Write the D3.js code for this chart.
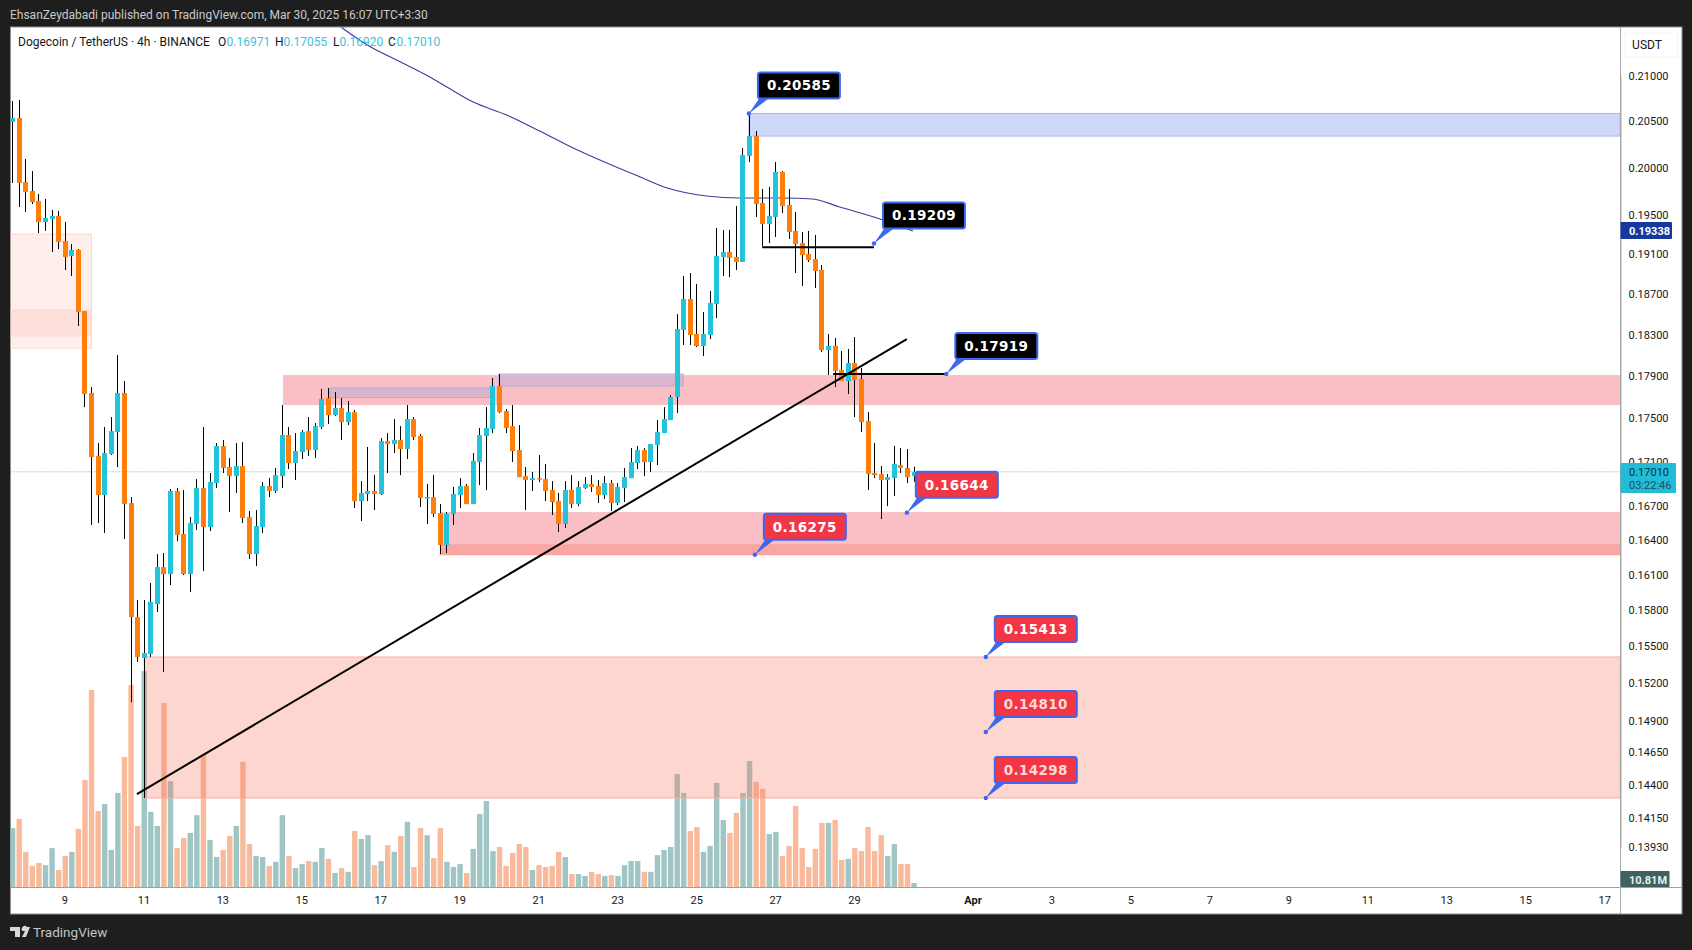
<!DOCTYPE html>
<html>
<head>
<meta charset="utf-8">
<script src="https://cdn.jsdelivr.net/npm/d3@7"></script>
<style>
  html, body { margin: 0; padding: 0; background: #1e1e1e; overflow: hidden; }
  text { font-family: Roboto, sans-serif; }
</style>
</head>
<body>
<div id="chart"></div>
<script>
// 4h candles, first bar opens Mar 7 16:00
var opens = [
  0.20492,0.20536,0.19848,0.19753,0.19648,0.19429,0.19460,0.19492,0.19234,0.19081,
  0.19142,0.18530,0.17739,0.17153,0.16801,0.17172,0.17374,0.17739,0.16729,0.15744,
  0.15405,0.15437,0.15854,0.16169,0.16109,0.16837,0.16456,0.16109,0.16544,0.16864,
  0.16517,0.16908,0.17245,0.17053,0.16971,0.17062,0.16605,0.16281,0.16517,0.16882,
  0.16837,0.16971,0.17346,0.17089,0.17190,0.17383,0.17208,0.17420,0.17691,0.17531,
  0.17597,0.17466,0.17559,0.16747,0.16810,0.16837,0.16810,0.17291,0.17263,0.17300,
  0.17217,0.17494,0.17337,0.16774,0.16783,0.16640,0.16360,0.16632,0.16801,0.16882,
  0.16720,0.17099,0.17337,0.17401,0.17805,0.17569,0.17429,0.17208,0.16971,0.16935,
  0.16953,0.16944,0.16846,0.16747,0.16544,0.16846,0.16720,0.16864,0.16899,0.16882,
  0.16801,0.16908,0.16729,0.16864,0.16953,0.17089,0.17208,0.17099,0.17254,0.17364,
  0.17485,0.17701,0.18344,0.18649,0.18305,0.18188,0.18295,0.18600,0.19071,0.19122,
  0.19071,0.19020,0.20125,0.20339,0.19627,0.19409,0.19481,0.19954,0.19606,0.19337,
  0.19213,0.19101,0.19050,0.18939,0.18149,0.18188,0.17957,0.17852,0.18024,0.17871,
  0.17476,0.16999,0.16990,0.16935,0.16953,0.17071,0.17044,0.16971
];
var highs = [
  0.20722,0.20733,0.20092,0.19964,0.19721,0.19669,0.19554,0.19544,0.19429,0.19203,
  0.19152,0.18530,0.17795,0.17272,0.17420,0.17513,0.18101,0.17852,0.16783,0.15888,
  0.15888,0.16032,0.16281,0.16290,0.16855,0.16864,0.16846,0.16605,0.16944,0.17420,
  0.16999,0.17273,0.17300,0.17135,0.17272,0.17281,0.16658,0.16667,0.16917,0.16953,
  0.17044,0.17625,0.17420,0.17364,0.17392,0.17513,0.17457,0.17777,0.17786,0.17748,
  0.17691,0.17663,0.17578,0.16926,0.17236,0.16980,0.17318,0.17364,0.17494,0.17429,
  0.17625,0.17513,0.17355,0.16899,0.16980,0.16720,0.16649,0.16873,0.16953,0.16899,
  0.17181,0.17411,0.17606,0.17881,0.17919,0.17587,0.17625,0.17438,0.17053,0.17008,
  0.17163,0.17081,0.16926,0.16819,0.16926,0.16980,0.16926,0.16962,0.16980,0.16935,
  0.16971,0.16935,0.16908,0.17044,0.17226,0.17245,0.17226,0.17263,0.17485,0.17606,
  0.17720,0.18500,0.18878,0.18909,0.18798,0.18520,0.18728,0.19368,0.19347,0.19347,
  0.19596,0.20210,0.20585,0.20394,0.19774,0.19795,0.20060,0.19964,0.19774,0.19533,
  0.19326,0.19337,0.19296,0.18990,0.18305,0.18266,0.18139,0.18159,0.18275,0.17976,
  0.17559,0.17272,0.17062,0.16990,0.17245,0.17226,0.17217,0.17055
];
var lows = [
  0.19837,0.19585,0.19533,0.19616,0.19316,0.19337,0.19122,0.19152,0.18939,0.18879,
  0.18383,0.17606,0.16535,0.16553,0.16465,0.17163,0.17053,0.16412,0.15047,0.15372,
  0.14298,0.15413,0.15786,0.15291,0.16015,0.16394,0.16100,0.15955,0.16491,0.16134,
  0.16482,0.16864,0.16999,0.16649,0.16819,0.16553,0.16238,0.16177,0.16465,0.16783,
  0.16819,0.16864,0.17035,0.16935,0.17126,0.17153,0.17135,0.17401,0.17448,0.17522,
  0.17300,0.17438,0.16685,0.16570,0.16747,0.16667,0.16801,0.16999,0.17181,0.16980,
  0.17126,0.17300,0.16694,0.16544,0.16605,0.16281,0.16290,0.16535,0.16685,0.16720,
  0.16720,0.16890,0.16846,0.17364,0.17550,0.17364,0.17099,0.16962,0.16667,0.16837,
  0.16917,0.16747,0.16623,0.16473,0.16509,0.16685,0.16702,0.16855,0.16828,0.16729,
  0.16765,0.16658,0.16711,0.16738,0.16953,0.17035,0.16971,0.17008,0.17071,0.17364,
  0.17485,0.17550,0.18198,0.18198,0.18178,0.18091,0.18256,0.18461,0.18878,0.18868,
  0.18939,0.19020,0.20060,0.19481,0.19183,0.19213,0.19275,0.19523,0.19254,0.18909,
  0.18778,0.19020,0.18758,0.18130,0.17909,0.17795,0.17852,0.17729,0.17513,0.17374,
  0.16846,0.16953,0.16588,0.16702,0.16792,0.16999,0.16908,0.16920
];
var closes = [
  0.20536,0.19837,0.19742,0.19637,0.19429,0.19471,0.19492,0.19224,0.19071,0.19142,
  0.18520,0.17729,0.17144,0.16801,0.17181,0.17383,0.17739,0.16720,0.15744,0.15413,
  0.15445,0.15871,0.16169,0.16109,0.16837,0.16447,0.16109,0.16553,0.16864,0.16517,
  0.16917,0.17245,0.17044,0.16971,0.17062,0.16597,0.16281,0.16526,0.16882,0.16837,
  0.16980,0.17346,0.17089,0.17199,0.17374,0.17208,0.17429,0.17682,0.17531,0.17597,
  0.17466,0.17559,0.16747,0.16819,0.16837,0.16810,0.17291,0.17263,0.17300,0.17217,
  0.17494,0.17328,0.16774,0.16783,0.16632,0.16360,0.16632,0.16810,0.16882,0.16720,
  0.17108,0.17346,0.17411,0.17805,0.17559,0.17411,0.17199,0.16962,0.16935,0.16953,
  0.16944,0.16837,0.16738,0.16544,0.16846,0.16720,0.16873,0.16899,0.16873,0.16801,
  0.16908,0.16729,0.16873,0.16962,0.17099,0.17208,0.17099,0.17263,0.17374,0.17494,
  0.17701,0.18354,0.18649,0.18295,0.18188,0.18305,0.18609,0.19081,0.19122,0.19061,
  0.19020,0.20135,0.20339,0.19616,0.19409,0.19492,0.19954,0.19596,0.19326,0.19203,
  0.19091,0.19040,0.18929,0.18149,0.18188,0.17947,0.17852,0.18024,0.17862,0.17466,
  0.16990,0.16980,0.16935,0.16962,0.17081,0.17044,0.16962,0.17010
];
// volume in millions
var volumes = [
  159,184,95,57,65,59,105,46,84,95,
  157,289,532,205,224,100,254,351,545,165,
  583,203,165,497,286,105,132,146,194,359,
  127,81,100,138,165,338,116,84,81,57,
  68,194,84,51,62,70,68,105,76,38,
  51,41,151,130,140,59,70,113,95,138,
  176,54,159,140,78,159,68,54,62,38,
  103,197,232,97,108,57,92,116,108,46,
  59,54,57,95,81,35,35,30,41,35,
  30,32,30,59,70,70,41,41,86,100,
  108,305,254,151,162,95,111,281,181,146,
  200,254,340,284,265,143,149,84,111,219,
  105,54,103,173,173,181,73,76,105,97,
  162,97,140,84,116,62,62,10.81
];

// moving average, bar number and price
var maBars = [50,53.9,58.9,63.4,66,70,75.1,80.1,85.2,90.3,95.4,99.5,105.5,110.5,117.1,121.6,125.7,131.8,136.8];
var maPrices = [0.2155,0.2135,0.2116,0.20989,0.20877,0.20711,0.20568,0.20394,0.20210,0.20049,0.19900,0.19784,0.19700,0.19679,0.19679,0.19669,0.19585,0.19460,0.19338];

var priceTicks = [0.21,0.205,0.2,0.195,0.191,0.187,0.183,0.179,0.175,0.171,0.167,0.164,0.161,0.158,0.155,0.152,0.149,0.1465,0.144,0.1415,0.1393];
var dayTicks = ["2025-03-09","2025-03-11","2025-03-13","2025-03-15","2025-03-17","2025-03-19","2025-03-21","2025-03-23","2025-03-25","2025-03-27","2025-03-29","2025-04-01","2025-04-03","2025-04-05","2025-04-07","2025-04-09","2025-04-11","2025-04-13","2025-04-15","2025-04-17"];

// zones drawn on the chart
var zoneStart = [-0.4,-0.4,111.9,41.1,65,65,20,48.2,73.9];
var zoneEnd = [12,12,244.3,244.3,244.3,244.3,244.3,72.6,101.9];
var zoneTop = [0.19306,0.18540,0.20585,0.17909,0.16649,0.16360,0.15413,0.17786,0.17919];
var zoneBottom = [0.18168,0.18285,0.20339,0.17625,0.16275,0.16275,0.14298,0.17696,0.17805];
var zoneFill = ["rgba(247,118,99,.12)","rgba(247,118,99,.12)","rgba(70,105,240,.26)","rgba(238,60,80,.33)","rgba(238,60,80,.33)","rgba(255,100,80,.28)","rgba(247,118,99,.3)","rgba(130,150,220,.25)","rgba(130,150,220,.25)"];
var zoneStroke = ["#fbd9d2","#fbd9d2","#a9b6f0","none","none","#fb9a94","#f8b0a6","#b0aade","#b0aade"];

// callouts
var calloutBars = [111.9,130.9,141.9,135.9,112.8,147.9,147.9,147.9];
var calloutPrices = [0.20585,0.19209,0.17919,0.16644,0.16275,0.15413,0.14810,0.14298];
var calloutFill = ["#000000","#000000","#000000","#f23645","#f23645","#f23645","#f23645","#f23645"];
var calloutText = ["#ffffff","#ffffff","#ffffff","#ffffff","#ffffff","#ffffff","#ffd9d4","#ffd9d4"];

// trend line and the two flat lines
var trendBars = [18.9,135.9];
var trendPrices = [0.14328,0.18256];
var flatStart = [113.9,124.7];
var flatEnd = [130.9,141.9];
var flatPrices = [0.1917,0.17919];

var width = 1692, height = 950;
var left = 10.5, right = 1620.5, top_ = 27, volBase = 887, bottom = 914, axisRight = 1682;
var orange = "#ff7f0a", cyan = "#22c4dc";

var firstBar = new Date(Date.UTC(2025, 2, 7, 16));
function barTime(b) { return new Date(firstBar.getTime() + b * 4 * 3600 * 1000); }

var x = d3.scaleUtc()
          .domain([firstBar, new Date(Date.UTC(2025, 3, 17))])
          .range([12.6, 1605]);
var y = d3.scaleLog()
          .domain([0.21, 0.1393])
          .range([76, 847]);
var yVol = d3.scaleLinear()
             .domain([0, 600])
             .range([volBase, volBase - 600 / 2.7]);

var candles = closes.map(function(c, i) {
  return { i: i, t: barTime(i), o: opens[i], h: highs[i], l: lows[i], c: c, v: volumes[i], up: c >= opens[i] };
});

// pixel-snapped centre so wicks stay 1px black
function cx(d) { return Math.floor(x(d.t)) + 0.5; }

var svg = d3.select("#chart")
            .append("svg")
            .attr("width", width)
            .attr("height", height)
            .style("display", "block");

svg.append("rect").attr("width", width).attr("height", height).attr("fill", "#1e1e1e");
svg.append("rect")
   .attr("x", left).attr("y", top_)
   .attr("width", axisRight - left).attr("height", bottom - top_)
   .attr("fill", "#fff").attr("stroke", "#8f8f8f");

svg.append("clipPath").attr("id", "pane").append("rect")
   .attr("x", left).attr("y", top_)
   .attr("width", right - left).attr("height", volBase - top_);
var pane = svg.append("g").attr("clip-path", "url(#pane)");

// volume
pane.selectAll("rect.vol")
    .data(candles)
    .enter().append("rect")
    .attr("class", "vol")
    .attr("x", function(d) { return x(d.t) - 2.7; })
    .attr("width", 5.4)
    .attr("y", function(d) { return yVol(d.v); })
    .attr("height", function(d) { return volBase - yVol(d.v); })
    .attr("fill", function(d) { return d.up ? "#9fc6c4" : "#f8ba9b"; });

// zones
pane.selectAll("rect.zone")
    .data(zoneTop)
    .enter().append("rect")
    .attr("class", "zone")
    .attr("x", function(d, i) { return x(barTime(zoneStart[i])); })
    .attr("width", function(d, i) { return x(barTime(zoneEnd[i])) - x(barTime(zoneStart[i])); })
    .attr("y", function(d) { return y(d); })
    .attr("height", function(d, i) { return y(zoneBottom[i]) - y(d); })
    .attr("fill", function(d, i) { return zoneFill[i]; })
    .attr("stroke", function(d, i) { return zoneStroke[i]; });

// last price line
pane.append("line")
    .attr("x1", left).attr("x2", right)
    .attr("y1", y(closes[closes.length - 1])).attr("y2", y(closes[closes.length - 1]))
    .attr("stroke", "#3fb3c4").attr("stroke-width", 1).attr("stroke-dasharray", "1 2");

// moving average
var maLine = d3.line()
               .x(function(d, i) { return x(barTime(maBars[i])); })
               .y(function(d) { return y(d); })
               .curve(d3.curveMonotoneX);
pane.append("path")
    .attr("d", maLine(maPrices))
    .attr("fill", "none").attr("stroke", "#3d3a9e").attr("stroke-width", 1.1);

// candles
pane.selectAll("line.wick")
    .data(candles)
    .enter().append("line")
    .attr("class", "wick")
    .attr("x1", cx)
    .attr("x2", cx)
    .attr("y1", function(d) { return y(d.h); })
    .attr("y2", function(d) { return y(d.l); })
    .attr("stroke", "#000").attr("stroke-width", 1);
pane.selectAll("rect.body")
    .data(candles)
    .enter().append("rect")
    .attr("class", "body")
    .attr("x", function(d) { return cx(d) - 2.5; })
    .attr("width", 5)
    .attr("y", function(d) { return y(Math.max(d.o, d.c)); })
    .attr("height", function(d) { return Math.max(1.5, Math.abs(y(d.o) - y(d.c))); })
    .attr("fill", function(d) { return d.up ? cyan : orange; });

// trend line, flat lines
var trendLine = d3.line()
                  .x(function(d, i) { return x(barTime(trendBars[i])); })
                  .y(function(d) { return y(d); });
pane.append("path")
    .attr("d", trendLine(trendPrices))
    .attr("fill", "none").attr("stroke", "#000").attr("stroke-width", 2);
pane.selectAll("line.flat")
    .data(flatPrices)
    .enter().append("line")
    .attr("class", "flat")
    .attr("x1", function(d, i) { return x(barTime(flatStart[i])); })
    .attr("x2", function(d, i) { return x(barTime(flatEnd[i])); })
    .attr("y1", function(d) { return y(d); })
    .attr("y2", function(d) { return y(d); })
    .attr("stroke", "#000").attr("stroke-width", 2);

// callouts, box sits up and to the right of its anchor dot
var calloutG = pane.selectAll("g.callout")
    .data(calloutPrices)
    .enter().append("g")
    .attr("class", "callout")
    .attr("transform", function(d, i) { return "translate(" + x(barTime(calloutBars[i])) + "," + y(d) + ")"; });
calloutG.append("path")
    .attr("d", "M0,0L11,-16L21,-16Z")
    .attr("fill", "#3d68ee");
calloutG.append("circle")
    .attr("r", 2.2)
    .attr("fill", "#3d68ee");
calloutG.append("rect")
    .attr("x", 9).attr("y", -41)
    .attr("width", 82).attr("height", 26)
    .attr("rx", 2.5)
    .attr("fill", function(d, i) { return calloutFill[i]; })
    .attr("stroke", "#3d68ee").attr("stroke-width", 2);
calloutG.append("text")
    .attr("x", 50).attr("y", -23)
    .attr("text-anchor", "middle")
    .style("font-family", "'DejaVu Sans', sans-serif")
    .style("font-weight", "bold")
    .style("font-size", "13.5px")
    .style("letter-spacing", "0.35px")
    .attr("fill", function(d, i) { return calloutText[i]; })
    .text(function(d) { return d3.format(".5f")(d); });

// axes
var yAxis = d3.axisRight(y)
              .tickValues(priceTicks)
              .tickFormat(d3.format(".5f"))
              .tickSize(0)
              .tickPadding(8);
var yG = svg.append("g").attr("transform", "translate(" + right + ",0)").call(yAxis);
yG.select(".domain").attr("stroke", "#a8a8a8");
yG.selectAll("text").style("font-size", "11px").style("font-family", "Roboto, sans-serif").attr("fill", "#131722");

var xAxis = d3.axisBottom(x)
              .tickValues(dayTicks.map(function(s) { return new Date(s + "T00:00:00Z"); }))
              .tickFormat(function(d) { return d.getUTCDate() == 1 ? "Apr" : d.getUTCDate(); })
              .tickSize(0)
              .tickPadding(9);
var xG = svg.append("g").attr("transform", "translate(-0.8," + volBase + ")").call(xAxis);
xG.select(".domain").remove();
xG.selectAll("text")
  .style("font-size", "11px")
  .style("font-family", "Roboto, sans-serif")
  .style("font-weight", function(d) { return d.getUTCDate() == 1 ? "bold" : "normal"; })
  .attr("fill", "#131722");

svg.append("line").attr("x1", left).attr("x2", axisRight).attr("y1", volBase + 0.5).attr("y2", volBase + 0.5).attr("stroke", "#a0a0a0");
svg.append("line").attr("x1", right).attr("x2", right).attr("y1", top_).attr("y2", bottom).attr("stroke", "#a8a8a8");

// price badges
function badge(yTop, h, w, fill) {
  svg.append("rect").attr("x", right).attr("y", yTop).attr("width", w).attr("height", h).attr("rx", 1).attr("fill", fill);
}
function badgeText(yPos, s, color, bold) {
  svg.append("text").attr("x", right + 8.5).attr("y", yPos)
     .style("font-size", "11px").style("font-weight", bold ? "bold" : "normal")
     .attr("fill", color).text(s);
}
badge(222, 17, 51.5, "#17399c");
badgeText(235, "0.19338", "#fff", true);
badge(463, 30, 55.5, "#22bcd8");
badgeText(476, "0.17010", "#0f2f3c", false);
badgeText(489, "03:22:46", "#17505f", false);
badge(871, 16, 49, "#3f625f");
badgeText(883.5, "10.81M", "#e8f0ee", true);

// USDT button
svg.append("rect").attr("x", 1625).attr("y", 32).attr("width", 53).attr("height", 25).attr("rx", 3).attr("fill", "#fff").attr("stroke", "#f3f3f3");
svg.append("text").attr("x", 1647).attr("y", 49).attr("text-anchor", "middle")
   .style("font-size", "12px").attr("fill", "#131722").text("USDT");

// header and legend
svg.append("text").attr("x", 10).attr("y", 19)
   .style("font-size", "12px").attr("fill", "#c9c9c9")
   .text("EhsanZeydabadi published on TradingView.com, Mar 30, 2025 16:07 UTC+3:30");
svg.append("text").attr("x", 18).attr("y", 46)
   .style("font-size", "12px").attr("fill", "#131722")
   .text("Dogecoin / TetherUS · 4h · BINANCE");
var legendNames = ["O", "H", "L", "C"];
var legendValues = ["0.16971", "0.17055", "0.16920", "0.17010"];
var legendX = [218, 275, 333, 388];
legendNames.forEach(function(n, i) {
  svg.append("text").attr("x", legendX[i]).attr("y", 46).style("font-size", "12px").attr("fill", "#131722").text(n);
  svg.append("text").attr("x", legendX[i] + (i == 2 ? 6.5 : 8.5)).attr("y", 46).style("font-size", "12px").attr("fill", "#3dc1dc").text(legendValues[i]);
});

// footer logo
svg.append("path")
   .attr("d", "M10,927h10v10h-5v-6h-5zM27,927h3l-4,10h-4l3,-6h-2.5a2,2 0 1 1 4.5,-4z")
   .attr("fill", "#d8d8d8");
svg.append("text").attr("x", 33).attr("y", 937)
   .style("font-size", "13.5px").attr("fill", "#c4c4c4")
   .text("TradingView");
</script>
</body>
</html>
